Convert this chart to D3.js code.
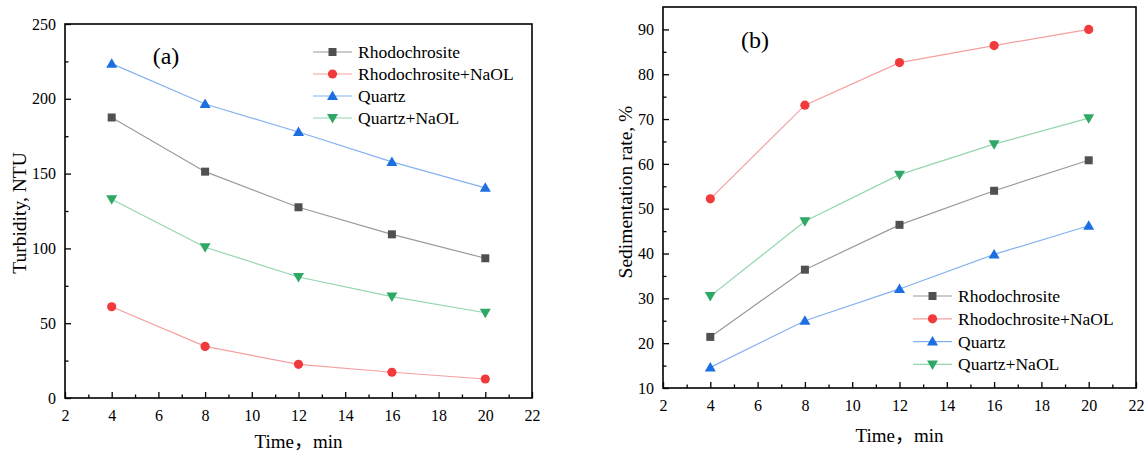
<!DOCTYPE html>
<html><head><meta charset="utf-8">
<script src="https://cdn.jsdelivr.net/npm/d3@7/dist/d3.min.js"></script>
<style>body{margin:0;background:#fff}svg{display:block}</style>
</head><body><svg id="c" width="1145" height="455"></svg>
<script>
const times = [4, 8, 12, 16, 20];
const seriesNames = ["Rhodochrosite", "Rhodochrosite+NaOL", "Quartz", "Quartz+NaOL"];
const turbRhodo = [187.5, 151.3, 127.5, 109.4, 93.4];
const turbRhodoNaOL = [61.0, 34.5, 22.5, 17.2, 12.7];
const turbQuartz = [223.5, 196.5, 177.8, 157.8, 140.5];
const turbQuartzNaOL = [132.8, 100.8, 80.9, 67.8, 57.0];
const sedRhodo = [21.4, 36.4, 46.4, 54.0, 60.8];
const sedRhodoNaOL = [52.2, 73.1, 82.6, 86.4, 90.0];
const sedQuartz = [14.6, 25.0, 32.1, 39.8, 46.2];
const sedQuartzNaOL = [30.5, 47.2, 57.6, 64.4, 70.2];
const xTicks = [2, 4, 6, 8, 10, 12, 14, 16, 18, 20, 22];
const turbTicks = [0, 50, 100, 150, 200, 250];
const sedTicks = [10, 20, 30, 40, 50, 60, 70, 80, 90];

const markerColors = ["#505050", "#f03a3c", "#1b6fe0", "#2fa866"];
const lineColors = ["#9a9a9a", "#f5a0a0", "#84b2f0", "#93d6ad"];
const shapes = ["square", "circle", "tri", "tridown"];
const SERIF = "'Liberation Serif', 'Times New Roman', 'Noto Sans CJK SC', serif";

const svg = d3.select("#c");

function marker(g, shape, color, x, y) {
  if (shape === "square") g.append("rect").attr("x", x - 4).attr("y", y - 4).attr("width", 8).attr("height", 8).attr("fill", color);
  else if (shape === "circle") g.append("circle").attr("cx", x).attr("cy", y).attr("r", 4.6).attr("fill", color);
  else if (shape === "tri") g.append("path").attr("d", `M${x},${y-5.5}L${x+5.5},${y+4}L${x-5.5},${y+4}Z`).attr("fill", color);
  else g.append("path").attr("d", `M${x},${y+5.5}L${x+5.5},${y-4}L${x-5.5},${y-4}Z`).attr("fill", color);
}

function txt(sel, size) {
  return sel.style("font-family", SERIF).style("font-size", size + "px").style("fill", "#000");
}

function panel(o) {
  const x = d3.scaleLinear().domain([2, 22]).range([o.l, o.r]);
  const y = d3.scaleLinear().domain(o.yDomain).range([o.b, o.t]);
  const g = svg.append("g");
  const xMinor = d3.range(3, 22, 2);
  g.append("g").attr("transform", `translate(0,${o.b})`)
    .call(d3.axisBottom(x).tickValues(xMinor).tickSize(-3.5).tickFormat(""))
    .call(a => a.select(".domain").remove()).selectAll("line").attr("stroke", "#000").attr("stroke-width", 1.3);
  g.append("g").attr("transform", `translate(${o.l},0)`)
    .call(d3.axisLeft(y).tickValues(o.yMinor).tickSize(-3.5).tickFormat(""))
    .call(a => a.select(".domain").remove()).selectAll("line").attr("stroke", "#000").attr("stroke-width", 1.3);
  const xa = g.append("g").attr("transform", `translate(0,${o.b})`)
    .call(d3.axisBottom(x).tickValues(xTicks).tickSize(-6).tickPadding(12).tickFormat(d3.format("d")));
  xa.attr("font-family", null);
  xa.select(".domain").remove();
  xa.selectAll("line").attr("stroke", "#000").attr("stroke-width", 1.3);
  txt(xa.selectAll("text"), 16);
  const ya = g.append("g").attr("transform", `translate(${o.l},0)`)
    .call(d3.axisLeft(y).tickValues(o.yTicks).tickSize(-6).tickPadding(9).tickFormat(d3.format("d")));
  ya.attr("font-family", null);
  ya.select(".domain").remove();
  ya.selectAll("line").attr("stroke", "#000").attr("stroke-width", 1.3);
  txt(ya.selectAll("text"), 16);
  g.append("rect").attr("x", o.l).attr("y", o.t).attr("width", o.r - o.l).attr("height", o.b - o.t)
    .attr("fill", "none").attr("stroke", "#000").attr("stroke-width", 1.6);
  o.data.forEach((vals, i) => {
    const line = d3.line().x((d, j) => x(times[j])).y(d => y(d));
    g.append("path").attr("d", line(vals)).attr("fill", "none").attr("stroke", lineColors[i]).attr("stroke-width", 1.2);
  });
  o.data.forEach((vals, i) => {
    vals.forEach((v, j) => marker(g, shapes[i], markerColors[i], x(times[j]), y(v)));
  });
  seriesNames.forEach((n, i) => {
    const ly = o.legY + i * o.legDy;
    g.append("line").attr("x1", o.legX).attr("x2", o.legX + 39).attr("y1", ly).attr("y2", ly)
      .attr("stroke", lineColors[i]).attr("stroke-width", 1.2);
    marker(g, shapes[i], markerColors[i], o.legX + 19.5, ly);
    txt(g.append("text").attr("x", o.legX + 45).attr("y", ly + 6), 17.5).text(n);
  });
  txt(g.append("text").attr("x", o.labX).attr("y", o.labY).attr("text-anchor", "middle"), 24).text(o.label);
  txt(g.append("text").attr("x", (o.l + o.r) / 2).attr("y", o.xTitleY).attr("text-anchor", "middle"), 19)
    .text("Time，min");
  txt(g.append("text").attr("transform", `translate(${o.yTitleX},${o.yTitleCY}) rotate(-90)`).attr("text-anchor", "middle")
    .attr("dy", "0.35em"), 19.5).text(o.yTitle);
}

panel({
  l: 65, r: 532, t: 24, b: 398, yDomain: [0, 250], yTicks: turbTicks, yMinor: d3.range(25, 250, 50),
  data: [turbRhodo, turbRhodoNaOL, turbQuartz, turbQuartzNaOL],
  legX: 313, legY: 52, legDy: 22, label: "(a)", labX: 166, labY: 64,
  xTitleY: 448, yTitle: "Turbidity, NTU", yTitleX: 19, yTitleCY: 213
});
panel({
  l: 663, r: 1136, t: 7, b: 388, yDomain: [10, 95], yTicks: sedTicks, yMinor: d3.range(15, 95, 10),
  data: [sedRhodo, sedRhodoNaOL, sedQuartz, sedQuartzNaOL],
  legX: 913, legY: 296, legDy: 22.8, label: "(b)", labX: 755, labY: 48,
  xTitleY: 442, yTitle: "Sedimentation rate, %", yTitleX: 625, yTitleCY: 192
});
</script></body></html>
